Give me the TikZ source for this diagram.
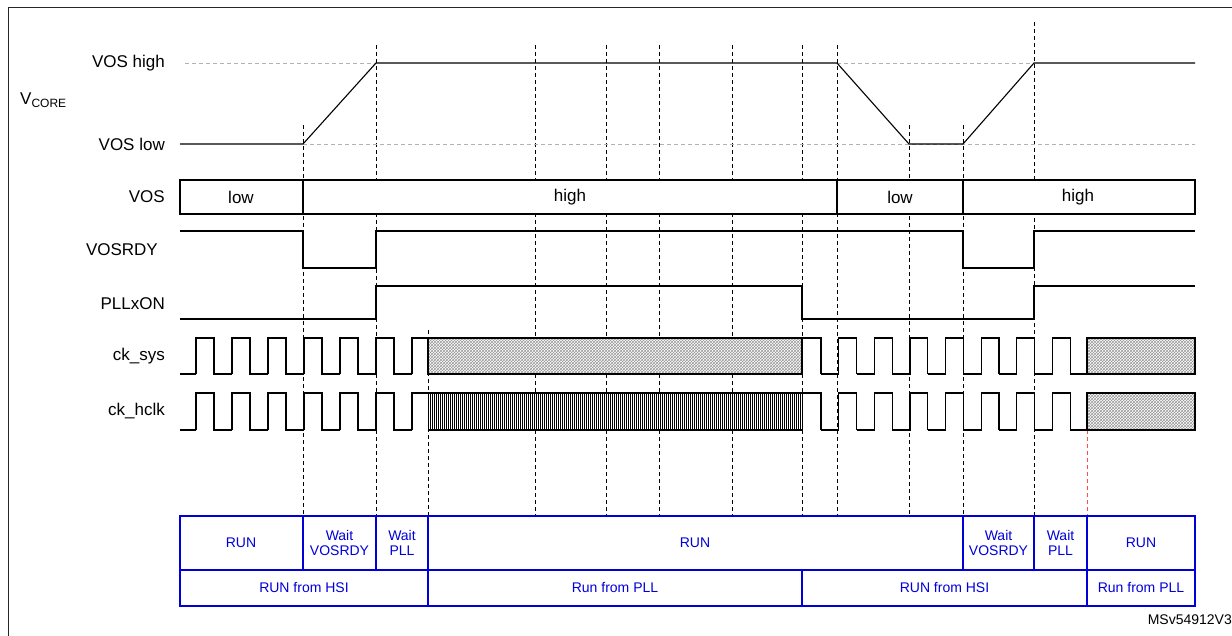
\documentclass[tikz,border=0pt]{standalone}
\usepackage{fontspec}
\setmainfont{Liberation Sans}
\usetikzlibrary{patterns}
\begin{document}
\begin{tikzpicture}[x=1pt,y=-1pt,
  sig/.style={line width=1.1pt,line join=miter},
  vdash/.style={black,line width=0.5pt,dash pattern=on 4pt off 3pt},
  gdash/.style={gray!60,line width=0.6pt,dash pattern=on 4pt off 3pt},
  lab/.style={anchor=east,font=\fontsize{17}{19}\selectfont,inner sep=0},
  vtxt/.style={font=\fontsize{17}{19}\selectfont,inner sep=0},
  tab/.style={draw=blue!85!black,line width=1.1pt},
  ttxt/.style={text=blue!85!black,font=\fontsize{14}{15}\selectfont,align=center,inner sep=0},
  hat/.style={preaction={fill=white},pattern=crosshatch,pattern color=gray!80,draw=black,line width=1.1pt}]
\useasboundingbox (0,0) rectangle (1232,636);
\draw[line width=0.8pt,gray!30!black] (8,636) -- (8,7) -- (1232,7);
% vertical dashed guides
\foreach \x/\t in {303/125,376/45,428/330,535/45,606/45,659/45,732/45,802/45,837/45,909/125,963/125,1034/22}
  \draw[vdash] (\x,\t) -- (\x,516);
\draw[red!70,line width=0.5pt,dash pattern=on 4pt off 3pt] (1087,430) -- (1087,516);
% grey dashed levels
\draw[gdash] (185,63) -- (376,63);
\draw[gdash] (837,63) -- (1034,63);
\draw[gdash] (303,144) -- (1195,144);
% labels
\node[lab] (lvh) at (165,63) {VOS high};
\node[lab] (lvl) at (165,144) {VOS low};
\node[anchor=west,font=\fontsize{17}{19}\selectfont,inner sep=0] (lvc) at (20,100) {V\textsubscript{\fontsize{12}{13}\selectfont CORE}};
\node[lab] (lvos) at (165,197) {VOS};
\node[lab] (lrdy) at (158,250) {VOSRDY};
\node[lab] (lpll) at (165,304) {PLLxON};
\node[lab] (lsys) at (165,356) {ck\_sys};
\node[lab] (lhclk) at (165,411) {ck\_hclk};
% VCORE
\draw[sig] (180,144) -- (303,144) -- (376,63) -- (837,63) -- (909,144) -- (963,144) -- (1034,63) -- (1195,63);
% VOS bus
\draw[sig,fill=white] (180,180) rectangle (1195,214);
\foreach \x in {303,837,963} \draw[sig] (\x,180) -- (\x,214);
\node[vtxt] (v1) at (241,197) {low};
\node[vtxt] (v2) at (570,197) {high};
\node[vtxt] (v3) at (900,197) {low};
\node[vtxt] (v4) at (1078,197) {high};
% VOSRDY
\draw[sig] (180,231) -- (303,231) -- (303,268) -- (376,268) -- (376,231) -- (963,231) -- (963,268) -- (1034,268) -- (1034,231) -- (1195,231);
% PLLxON
\draw[sig] (180,319) -- (376,319) -- (376,286) -- (802,286) -- (802,319) -- (1034,319) -- (1034,286) -- (1195,286);
% ck_sys and ck_hclk slow parts
\foreach \lo/\hi in {374/338,430/393}{
  \draw[sig] (180,\lo) -- (196,\lo);
  \foreach \i in {0,...,5}
    \draw[sig] ({196+36*\i},\lo) -- ({196+36*\i},\hi) -- ({214+36*\i},\hi) -- ({214+36*\i},\lo) -- ({232+36*\i},\lo);
  \draw[sig] (412,\lo) -- (412,\hi) -- (428,\hi);
  \draw[sig] (802,\hi) -- (821,\hi) -- (821,\lo);
  \foreach \i in {0,...,6}
    \draw[sig] ({821+17.8*(2*\i)},\lo) -- ({821+17.8*(2*\i+1)},\lo) -- ({821+17.8*(2*\i+1)},\hi) -- ({821+17.8*(2*\i+2)},\hi) -- ({821+17.8*(2*\i+2)},\lo);
  \draw[sig] (1070,\lo) -- (1087,\lo);
}
\draw[hat] (428,338) rectangle (802,374);
\draw[hat] (1087,338) rectangle (1195,374);
\draw[hat] (1087,393) rectangle (1195,430);
% fast hclk
\fill[white] (428,393) rectangle (802,430);
\draw[line width=0.7pt] (428,430) -- (428,393)
  \foreach \i in {0,...,92} { -- ({428+4*\i},393) -- ({430+4*\i},393) -- ({430+4*\i},430) -- ({432+4*\i},430) -- ({432+4*\i},393) }
  -- (802,393) -- (802,430);
\draw[line width=1.1pt] (428,393) -- (802,393);
\draw[line width=1.1pt] (428,430) -- (802,430);
% table
\draw[tab] (180,516) rectangle (1195,606);
\draw[tab] (180,570) -- (1195,570);
\foreach \x in {303,376,428,963,1034,1087} \draw[tab] (\x,516) -- (\x,570);
\foreach \x in {428,802,1087} \draw[tab] (\x,570) -- (\x,606);
\node[ttxt] (r1) at (241,543) {RUN};
\node[ttxt] (r2) at (339.5,543) {Wait\\VOSRDY};
\node[ttxt] (r3) at (402,543) {Wait\\PLL};
\node[ttxt] (r4) at (695,543) {RUN};
\node[ttxt] (r5) at (998.5,543) {Wait\\VOSRDY};
\node[ttxt] (r6) at (1060.5,543) {Wait\\PLL};
\node[ttxt] (r7) at (1141,543) {RUN};
\node[ttxt] (s1) at (304,588) {RUN from HSI};
\node[ttxt] (s2) at (615,588) {Run from PLL};
\node[ttxt] (s3) at (944.5,588) {RUN from HSI};
\node[ttxt] (s4) at (1141,588) {Run from PLL};
\node[anchor=east,font=\fontsize{14}{15}\selectfont,inner sep=0] (ms) at (1232,620) {MSv54912V3};
\end{tikzpicture}
\end{document}
